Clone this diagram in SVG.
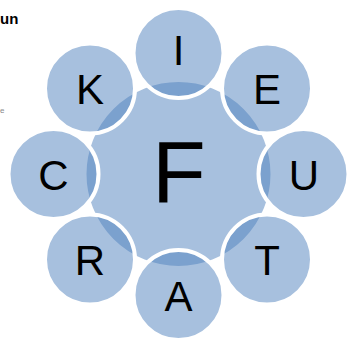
<svg xmlns="http://www.w3.org/2000/svg" width="348" height="342" viewBox="0 0 348 342">
<style>
.c{fill:#4F81BD;fill-opacity:0.5;stroke:#fff;stroke-width:4}
.t{font-family:"Liberation Sans",Arial,sans-serif;font-size:42px;fill:#000;text-anchor:middle}
.f{font-size:88px}
</style>
<rect width="348" height="342" fill="#fff"/>
<text x="0" y="24" font-family="Liberation Sans,Arial,sans-serif" font-weight="bold" font-size="15">un</text>
<text x="0" y="113" font-family="Liberation Sans,Arial,sans-serif" font-size="8" fill="#888">e</text>
<g id="center"><circle class="c" cx="178.5" cy="174" r="94"/><text class="t f" x="179" y="202">F</text></g>
<g id="connectors"></g>
<g id="nI"><circle class="c" cx="178.5" cy="53" r="45"/><text class="t" x="178.5" y="65">I</text></g>
<g id="nE"><circle class="c" cx="267" cy="88.5" r="45"/><text class="t" x="267" y="104">E</text></g>
<g id="nU"><circle class="c" cx="303.5" cy="174" r="45"/><text class="t" x="304" y="190">U</text></g>
<g id="nT"><circle class="c" cx="267" cy="259.5" r="45"/><text class="t" x="267" y="275">T</text></g>
<g id="nA"><circle class="c" cx="178.5" cy="295" r="45"/><text class="t" x="178.5" y="311">A</text></g>
<g id="nR"><circle class="c" cx="90" cy="259.5" r="45"/><text class="t" x="90" y="275">R</text></g>
<g id="nC"><circle class="c" cx="53.5" cy="174" r="45"/><text class="t" x="53.5" y="190">C</text></g>
<g id="nK"><circle class="c" cx="90" cy="88.5" r="45"/><text class="t" x="90" y="104">K</text></g>
</svg>
